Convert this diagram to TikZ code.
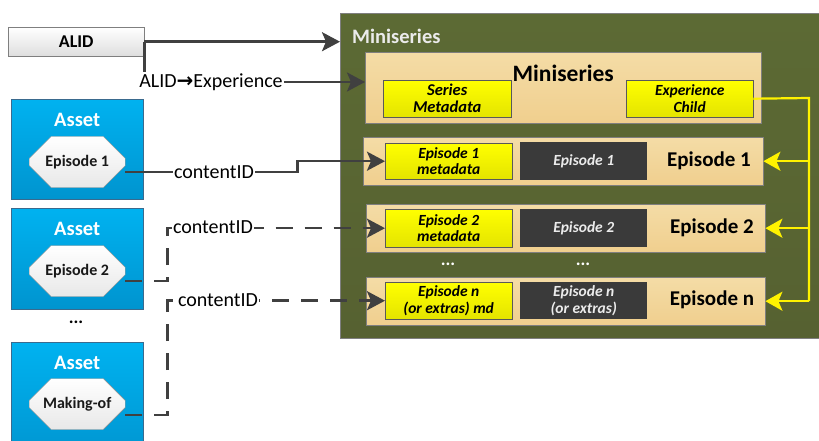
\documentclass[tikz,border=0pt]{standalone}
\usepackage{fontspec}
\setmainfont{Carlito}
\newfontfamily\arrowfont{DejaVu Sans}
\usetikzlibrary{positioning,shapes.misc,arrows.meta}

\definecolor{olivebg}{HTML}{5C6A34}
\definecolor{olivebot}{HTML}{566131}
\definecolor{peachtop}{HTML}{F4DCA6}
\definecolor{peachbot}{HTML}{F0CF8E}
\definecolor{yeltop}{HTML}{FFFF00}
\definecolor{yelbot}{HTML}{E4E400}
\definecolor{darkbox}{HTML}{3A3A3A}
\definecolor{bluetop}{HTML}{00B2F0}
\definecolor{bluebot}{HTML}{0094CF}
\definecolor{blueline}{HTML}{3A6A8E}
\definecolor{linegray}{HTML}{404040}
\definecolor{boxgray}{HTML}{7F7F7F}

\tikzset{
  box/.style={anchor=north west, inner sep=0pt, align=center},
  alidbox/.style={box, draw=boxgray, top color=white, bottom color=black!13,
    minimum width=136, minimum height=29, font=\bfseries\fontsize{18}{20}\selectfont},
  outerbox/.style={box, draw=boxgray, top color=olivebg, bottom color=olivebot},
  rowbox/.style={box, draw=boxgray, top color=peachtop, bottom color=peachbot},
  mdbox/.style={box, draw=black!65, top color=yeltop, bottom color=yelbot,
    font=\bfseries\itshape\fontsize{15.5}{16.5}\selectfont},
  dkbox/.style={box, fill=darkbox, text=black!8,
    font=\bfseries\itshape\fontsize{15.5}{16.5}\selectfont},
  rowlabel/.style={inner sep=0pt, font=\bfseries\fontsize{21}{24}\selectfont},
  asset/.style={box, draw=blueline, top color=bluetop, bottom color=bluebot,
    minimum width=132},
  assettxt/.style={inner sep=0pt, text=white, font=\bfseries\fontsize{20.5}{24}\selectfont},
  oct/.style={chamfered rectangle, chamfered rectangle xsep=18pt,
    chamfered rectangle ysep=15pt, draw=black!45, top color=white,
    bottom color=black!9, minimum width=96, minimum height=51, inner sep=0pt,
    text=black!90, font=\bfseries\fontsize{16}{18}\selectfont},
  cid/.style={fill=white, inner sep=1pt, font=\fontsize{20}{24}\selectfont},
  conn/.style={draw=linegray, line width=2.5pt},
  arr/.style={conn, -{Stealth[length=18pt, width=19pt, inset=4pt]}},
  dashconn/.style={arr, dash pattern=on 17pt off 12pt},
  ybus/.style={draw=yellow, line width=2.2pt},
  yarr/.style={ybus, -{Stealth[length=17pt, width=19pt, inset=4pt]}},
}

\begin{document}
\begin{tikzpicture}[x=1pt, y=-1pt]
\clip (0,0) rectangle (819,441);
\fill[white] (0,0) rectangle (819,441);

% miniseries container
\node[outerbox, minimum width=500, minimum height=325] (mini) at (340,13) {};
\node[anchor=west, inner sep=0pt, text=black!8, font=\bfseries\fontsize{20.5}{24}\selectfont]
  (minititle) at ([xshift=12pt, yshift=-23pt]mini.north west) {Miniseries};

\node[rowbox, minimum width=396, minimum height=71] (head) at (365,52) {};
\node[inner sep=0pt, font=\bfseries\fontsize{23.5}{28}\selectfont]
  (headtitle) at ([yshift=-21pt]head.north) {Miniseries};
\node[mdbox, minimum width=128, minimum height=37, font=\bfseries\itshape\fontsize{16.5}{17}\selectfont]
  (sermd) at (383,80) {Series\\Metadata};
\node[mdbox, minimum width=127, minimum height=37] (exp) at (626,80) {Experience\\Child};

% episodes
\node[rowbox, minimum width=400, minimum height=48] (ep1) at (363,137) {};
\node[mdbox, minimum width=127, minimum height=36] (md1) at (385,143) {Episode 1\\metadata};
\node[dkbox, minimum width=127, minimum height=38] (dk1) at (520,142) {Episode 1};
\node[rowlabel] (lab1) at (709,161) {Episode 1};

\node[rowbox, minimum width=399, minimum height=48] (ep2) at (366,204) {};
\node[mdbox, minimum width=127, minimum height=38] (md2) at (385,209) {Episode 2\\metadata};
\node[dkbox, minimum width=127, minimum height=38] (dk2) at (520,209) {Episode 2};
\node[rowlabel] (lab2) at (712,228) {Episode 2};

\node[assettxt, font=\bfseries\fontsize{18}{20}\selectfont] (dotsa) at (448,264) {...};
\node[assettxt, font=\bfseries\fontsize{18}{20}\selectfont] (dotsb) at (583,264) {...};

\node[rowbox, minimum width=399, minimum height=48] (epn) at (366,277) {};
\node[mdbox, minimum width=127, minimum height=37] (mdn) at (385,282) {Episode n\\(or extras) md};
\node[dkbox, minimum width=127, minimum height=37] (dkn) at (520,282) {Episode n\\(or extras)};
\node[rowlabel] (labn) at (712,300) {Episode n};

% assets
\node[alidbox] (alid) at (8,27) {ALID};

\node[asset, minimum height=100] (a1) at (11,99) {};
\node[assettxt] (at1) at ([yshift=-21pt]a1.north) {Asset};
\node[oct] (o1) at ([yshift=-63pt]a1.north) {Episode 1};

\node[asset, minimum height=101] (a2) at (11,208) {};
\node[assettxt] (at2) at ([yshift=-21pt]a2.north) {Asset};
\node[oct] (o2) at ([yshift=-63pt]a2.north) {Episode 2};

\node[inner sep=0pt, font=\bfseries\fontsize{18}{20}\selectfont] (dotsc) at (76,322) {...};

\node[asset, minimum height=120] (a3) at (11,342) {};
\node[assettxt] (at3) at ([yshift=-21pt]a3.north) {Asset};
\node[oct] (o3) at ([yshift=-62pt]a3.north) {Making-of};

% connectors
\node[cid, fill=none] (aexp) at (211,82) {ALID{\arrowfont\bfseries→}Experience};
\draw[arr] (alid.east) -- (alid.east -| mini.west);
\draw[conn] (alid.east) -- (alid.east |- aexp.north);
\draw[arr] (aexp.east) -- (aexp.east -| head.west);

\draw[arr] ([yshift=-10pt]o1.east) -- ++(172,0) |- (md1.west);
\draw[dashconn] ([yshift=-10pt]o2.east) -- ++(42,0) |- (md2.west);
\draw[dashconn] ([yshift=-11pt]o3.east) -- ++(42,0) |- (mdn.west);
\node[cid] (cid1) at (214,172) {contentID};
\node[cid] (cid2) at (213,227) {contentID};
\node[cid] (cid3) at (218,300) {contentID};

\coordinate (bus) at (809,98);
\draw[ybus] (exp.east) -- (bus) -- (bus |- epn.east);
\draw[yarr] (bus |- ep1.east) -- (ep1.east);
\draw[yarr] (bus |- ep2.east) -- (ep2.east);
\draw[yarr] (bus |- epn.east) -- (epn.east);
\end{tikzpicture}
\end{document}
